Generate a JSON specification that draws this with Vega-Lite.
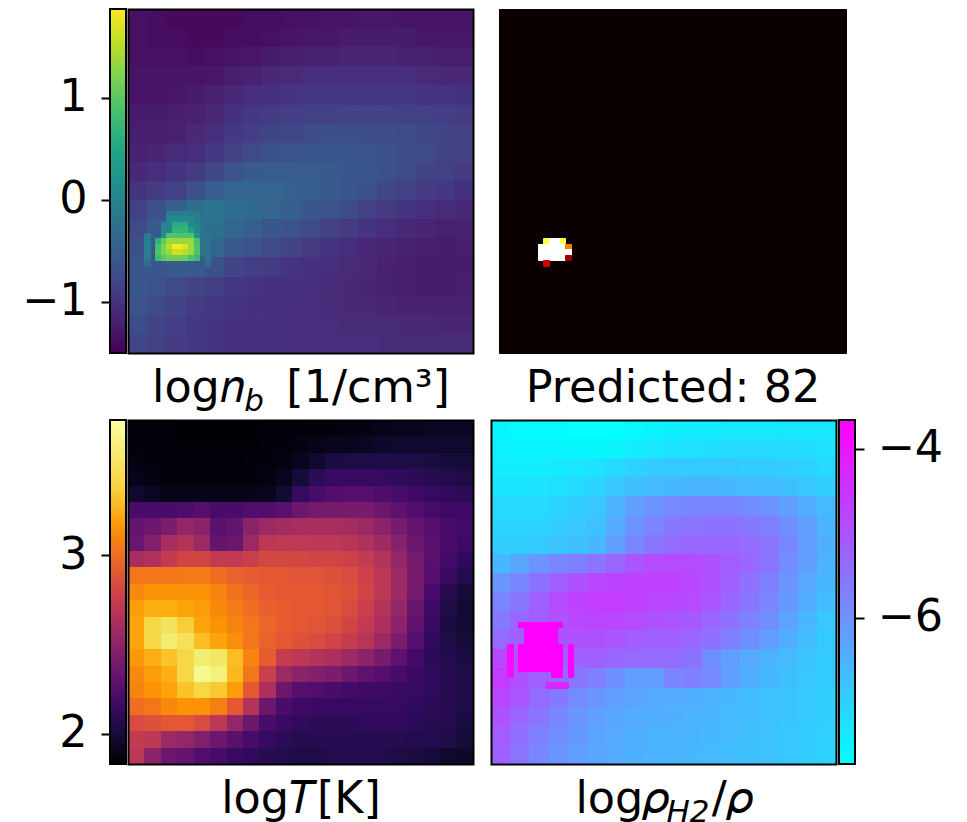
{"$schema":"https://vega.github.io/schema/vega-lite/v6.json","padding":{"left":21,"top":8,"right":0,"bottom":0},"background":"white","config":{"view":{"stroke":null},"font":"DejaVu Sans"},"datasets":{"frame":[{"x":1,"y":1}],"cbn":[{"a":-1.5,"b":1.87}],"cbt":[{"a":1.83,"b":3.76}],"cbr":[{"a":-7.73,"b":-3.66}],
"nc":[{"x":1,"y":1,"v":-1.37},{"x":5,"y":1,"v":-1.4},{"x":8,"y":1,"v":-1.43},{"x":12,"y":1,"v":-1.43},{"x":15,"y":1,"v":-1.43},{"x":19,"y":1,"v":-1.43},{"x":22,"y":1,"v":-1.4},{"x":26,"y":1,"v":-1.4},{"x":29,"y":1,"v":-1.37},{"x":33,"y":1,"v":-1.37},{"x":36,"y":1,"v":-1.33},{"x":40,"y":1,"v":-1.33},{"x":43,"y":1,"v":-1.3},{"x":47,"y":1,"v":-1.3},{"x":50,"y":1,"v":-1.33},{"x":54,"y":1,"v":-1.33},{"x":57,"y":1,"v":-1.33},{"x":61,"y":1,"v":-1.33},
{"x":1,"y":5,"v":-1.37},{"x":5,"y":5,"v":-1.4},{"x":8,"y":5,"v":-1.4},{"x":12,"y":5,"v":-1.43},{"x":15,"y":5,"v":-1.43},{"x":19,"y":5,"v":-1.4},{"x":22,"y":5,"v":-1.4},{"x":26,"y":5,"v":-1.37},{"x":29,"y":5,"v":-1.33},{"x":33,"y":5,"v":-1.3},{"x":36,"y":5,"v":-1.3},{"x":40,"y":5,"v":-1.26},{"x":43,"y":5,"v":-1.26},{"x":47,"y":5,"v":-1.26},{"x":50,"y":5,"v":-1.26},{"x":54,"y":5,"v":-1.3},{"x":57,"y":5,"v":-1.3},{"x":61,"y":5,"v":-1.3},
{"x":1,"y":8,"v":-1.37},{"x":5,"y":8,"v":-1.37},{"x":8,"y":8,"v":-1.37},{"x":12,"y":8,"v":-1.4},{"x":15,"y":8,"v":-1.37},{"x":19,"y":8,"v":-1.33},{"x":22,"y":8,"v":-1.3},{"x":26,"y":8,"v":-1.26},{"x":29,"y":8,"v":-1.23},{"x":33,"y":8,"v":-1.2},{"x":36,"y":8,"v":-1.2},{"x":40,"y":8,"v":-1.16},{"x":43,"y":8,"v":-1.16},{"x":47,"y":8,"v":-1.16},{"x":50,"y":8,"v":-1.2},{"x":54,"y":8,"v":-1.2},{"x":57,"y":8,"v":-1.23},{"x":61,"y":8,"v":-1.23},
{"x":1,"y":12,"v":-1.33},{"x":5,"y":12,"v":-1.33},{"x":8,"y":12,"v":-1.33},{"x":12,"y":12,"v":-1.33},{"x":15,"y":12,"v":-1.3},{"x":19,"y":12,"v":-1.23},{"x":22,"y":12,"v":-1.2},{"x":26,"y":12,"v":-1.13},{"x":29,"y":12,"v":-1.1},{"x":33,"y":12,"v":-1.06},{"x":36,"y":12,"v":-1.06},{"x":40,"y":12,"v":-1.06},{"x":43,"y":12,"v":-1.06},{"x":47,"y":12,"v":-1.06},{"x":50,"y":12,"v":-1.06},{"x":54,"y":12,"v":-1.1},{"x":57,"y":12,"v":-1.13},{"x":61,"y":12,"v":-1.13},
{"x":1,"y":15,"v":-1.33},{"x":5,"y":15,"v":-1.33},{"x":8,"y":15,"v":-1.3},{"x":12,"y":15,"v":-1.26},{"x":15,"y":15,"v":-1.2},{"x":19,"y":15,"v":-1.13},{"x":22,"y":15,"v":-1.06},{"x":26,"y":15,"v":-1.03},{"x":29,"y":15,"v":-0.99},{"x":33,"y":15,"v":-0.96},{"x":36,"y":15,"v":-0.96},{"x":40,"y":15,"v":-0.96},{"x":43,"y":15,"v":-0.96},{"x":47,"y":15,"v":-0.96},{"x":50,"y":15,"v":-0.96},{"x":54,"y":15,"v":-0.99},{"x":57,"y":15,"v":-0.99},{"x":61,"y":15,"v":-1.03},
{"x":1,"y":19,"v":-1.26},{"x":5,"y":19,"v":-1.26},{"x":8,"y":19,"v":-1.23},{"x":12,"y":19,"v":-1.2},{"x":15,"y":19,"v":-1.13},{"x":19,"y":19,"v":-1.03},{"x":22,"y":19,"v":-0.96},{"x":26,"y":19,"v":-0.93},{"x":29,"y":19,"v":-0.89},{"x":33,"y":19,"v":-0.86},{"x":36,"y":19,"v":-0.86},{"x":40,"y":19,"v":-0.83},{"x":43,"y":19,"v":-0.83},{"x":47,"y":19,"v":-0.83},{"x":50,"y":19,"v":-0.86},{"x":54,"y":19,"v":-0.86},{"x":57,"y":19,"v":-0.89},{"x":61,"y":19,"v":-0.93},
{"x":1,"y":22,"v":-1.23},{"x":5,"y":22,"v":-1.23},{"x":8,"y":22,"v":-1.2},{"x":12,"y":22,"v":-1.13},{"x":15,"y":22,"v":-1.06},{"x":19,"y":22,"v":-0.96},{"x":22,"y":22,"v":-0.89},{"x":26,"y":22,"v":-0.83},{"x":29,"y":22,"v":-0.79},{"x":33,"y":22,"v":-0.76},{"x":36,"y":22,"v":-0.72},{"x":40,"y":22,"v":-0.72},{"x":43,"y":22,"v":-0.72},{"x":47,"y":22,"v":-0.72},{"x":50,"y":22,"v":-0.76},{"x":54,"y":22,"v":-0.79},{"x":57,"y":22,"v":-0.83},{"x":61,"y":22,"v":-0.86},
{"x":1,"y":26,"v":-1.2},{"x":5,"y":26,"v":-1.16},{"x":8,"y":26,"v":-1.1},{"x":12,"y":26,"v":-1.06},{"x":15,"y":26,"v":-0.96},{"x":19,"y":26,"v":-0.86},{"x":22,"y":26,"v":-0.76},{"x":26,"y":26,"v":-0.69},{"x":29,"y":26,"v":-0.66},{"x":33,"y":26,"v":-0.62},{"x":36,"y":26,"v":-0.62},{"x":40,"y":26,"v":-0.62},{"x":43,"y":26,"v":-0.66},{"x":47,"y":26,"v":-0.69},{"x":50,"y":26,"v":-0.72},{"x":54,"y":26,"v":-0.76},{"x":57,"y":26,"v":-0.83},{"x":61,"y":26,"v":-0.86},
{"x":1,"y":29,"v":-1.13},{"x":5,"y":29,"v":-1.06},{"x":8,"y":29,"v":-0.99},{"x":12,"y":29,"v":-0.93},{"x":15,"y":29,"v":-0.79},{"x":19,"y":29,"v":-0.66},{"x":22,"y":29,"v":-0.56},{"x":26,"y":29,"v":-0.52},{"x":29,"y":29,"v":-0.52},{"x":33,"y":29,"v":-0.52},{"x":36,"y":29,"v":-0.56},{"x":40,"y":29,"v":-0.59},{"x":43,"y":29,"v":-0.62},{"x":47,"y":29,"v":-0.69},{"x":50,"y":29,"v":-0.76},{"x":54,"y":29,"v":-0.83},{"x":57,"y":29,"v":-0.86},{"x":61,"y":29,"v":-0.93},
{"x":1,"y":33,"v":-0.99},{"x":5,"y":33,"v":-0.93},{"x":8,"y":33,"v":-0.86},{"x":12,"y":33,"v":-0.69},{"x":15,"y":33,"v":-0.52},{"x":19,"y":33,"v":-0.42},{"x":22,"y":33,"v":-0.39},{"x":26,"y":33,"v":-0.42},{"x":29,"y":33,"v":-0.46},{"x":33,"y":33,"v":-0.49},{"x":36,"y":33,"v":-0.56},{"x":40,"y":33,"v":-0.62},{"x":43,"y":33,"v":-0.69},{"x":47,"y":33,"v":-0.79},{"x":50,"y":33,"v":-0.86},{"x":54,"y":33,"v":-0.93},{"x":57,"y":33,"v":-0.96},{"x":61,"y":33,"v":-1.03},
{"x":1,"y":36,"v":-0.86},{"x":5,"y":36,"v":-0.69},{"x":8,"y":36,"v":-0.49},{"x":12,"y":36,"v":-0.29},{"x":15,"y":36,"v":-0.22},{"x":19,"y":36,"v":-0.29},{"x":22,"y":36,"v":-0.35},{"x":26,"y":36,"v":-0.42},{"x":29,"y":36,"v":-0.49},{"x":33,"y":36,"v":-0.59},{"x":36,"y":36,"v":-0.66},{"x":40,"y":36,"v":-0.76},{"x":43,"y":36,"v":-0.86},{"x":47,"y":36,"v":-0.93},{"x":50,"y":36,"v":-0.99},{"x":54,"y":36,"v":-1.06},{"x":57,"y":36,"v":-1.1},{"x":61,"y":36,"v":-1.13},
{"x":1,"y":40,"v":-0.76},{"x":5,"y":40,"v":-0.56},{"x":8,"y":40,"v":-0.35},{"x":12,"y":40,"v":-0.22},{"x":15,"y":40,"v":-0.29},{"x":19,"y":40,"v":-0.39},{"x":22,"y":40,"v":-0.49},{"x":26,"y":40,"v":-0.59},{"x":29,"y":40,"v":-0.66},{"x":33,"y":40,"v":-0.76},{"x":36,"y":40,"v":-0.86},{"x":40,"y":40,"v":-0.93},{"x":43,"y":40,"v":-0.99},{"x":47,"y":40,"v":-1.06},{"x":50,"y":40,"v":-1.13},{"x":54,"y":40,"v":-1.16},{"x":57,"y":40,"v":-1.2},{"x":61,"y":40,"v":-1.2},
{"x":1,"y":43,"v":-0.69},{"x":5,"y":43,"v":-0.56},{"x":8,"y":43,"v":-0.39},{"x":12,"y":43,"v":-0.25},{"x":15,"y":43,"v":-0.39},{"x":19,"y":43,"v":-0.56},{"x":22,"y":43,"v":-0.66},{"x":26,"y":43,"v":-0.76},{"x":29,"y":43,"v":-0.83},{"x":33,"y":43,"v":-0.93},{"x":36,"y":43,"v":-0.99},{"x":40,"y":43,"v":-1.06},{"x":43,"y":43,"v":-1.13},{"x":47,"y":43,"v":-1.16},{"x":50,"y":43,"v":-1.2},{"x":54,"y":43,"v":-1.23},{"x":57,"y":43,"v":-1.26},{"x":61,"y":43,"v":-1.23},
{"x":1,"y":47,"v":-0.59},{"x":5,"y":47,"v":-0.59},{"x":8,"y":47,"v":-0.56},{"x":12,"y":47,"v":-0.56},{"x":15,"y":47,"v":-0.69},{"x":19,"y":47,"v":-0.83},{"x":22,"y":47,"v":-0.89},{"x":26,"y":47,"v":-0.93},{"x":29,"y":47,"v":-0.99},{"x":33,"y":47,"v":-1.03},{"x":36,"y":47,"v":-1.06},{"x":40,"y":47,"v":-1.1},{"x":43,"y":47,"v":-1.13},{"x":47,"y":47,"v":-1.2},{"x":50,"y":47,"v":-1.23},{"x":54,"y":47,"v":-1.26},{"x":57,"y":47,"v":-1.26},{"x":61,"y":47,"v":-1.26},
{"x":1,"y":50,"v":-0.59},{"x":5,"y":50,"v":-0.66},{"x":8,"y":50,"v":-0.76},{"x":12,"y":50,"v":-0.83},{"x":15,"y":50,"v":-0.89},{"x":19,"y":50,"v":-0.96},{"x":22,"y":50,"v":-0.99},{"x":26,"y":50,"v":-1.03},{"x":29,"y":50,"v":-1.03},{"x":33,"y":50,"v":-1.06},{"x":36,"y":50,"v":-1.1},{"x":40,"y":50,"v":-1.13},{"x":43,"y":50,"v":-1.16},{"x":47,"y":50,"v":-1.2},{"x":50,"y":50,"v":-1.23},{"x":54,"y":50,"v":-1.26},{"x":57,"y":50,"v":-1.26},{"x":61,"y":50,"v":-1.23},
{"x":1,"y":54,"v":-0.66},{"x":5,"y":54,"v":-0.76},{"x":8,"y":54,"v":-0.83},{"x":12,"y":54,"v":-0.93},{"x":15,"y":54,"v":-0.96},{"x":19,"y":54,"v":-0.99},{"x":22,"y":54,"v":-1.03},{"x":26,"y":54,"v":-1.03},{"x":29,"y":54,"v":-1.06},{"x":33,"y":54,"v":-1.06},{"x":36,"y":54,"v":-1.1},{"x":40,"y":54,"v":-1.13},{"x":43,"y":54,"v":-1.13},{"x":47,"y":54,"v":-1.16},{"x":50,"y":54,"v":-1.2},{"x":54,"y":54,"v":-1.2},{"x":57,"y":54,"v":-1.2},{"x":61,"y":54,"v":-1.2},
{"x":1,"y":57,"v":-0.72},{"x":5,"y":57,"v":-0.83},{"x":8,"y":57,"v":-0.89},{"x":12,"y":57,"v":-0.96},{"x":15,"y":57,"v":-0.99},{"x":19,"y":57,"v":-1.03},{"x":22,"y":57,"v":-1.03},{"x":26,"y":57,"v":-1.06},{"x":29,"y":57,"v":-1.06},{"x":33,"y":57,"v":-1.06},{"x":36,"y":57,"v":-1.06},{"x":40,"y":57,"v":-1.1},{"x":43,"y":57,"v":-1.1},{"x":47,"y":57,"v":-1.1},{"x":50,"y":57,"v":-1.13},{"x":54,"y":57,"v":-1.13},{"x":57,"y":57,"v":-1.16},{"x":61,"y":57,"v":-1.16},
{"x":1,"y":61,"v":-0.79},{"x":5,"y":61,"v":-0.86},{"x":8,"y":61,"v":-0.93},{"x":12,"y":61,"v":-0.96},{"x":15,"y":61,"v":-0.99},{"x":19,"y":61,"v":-1.03},{"x":22,"y":61,"v":-1.03},{"x":26,"y":61,"v":-1.03},{"x":29,"y":61,"v":-1.06},{"x":33,"y":61,"v":-1.06},{"x":36,"y":61,"v":-1.06},{"x":40,"y":61,"v":-1.06},{"x":43,"y":61,"v":-1.06},{"x":47,"y":61,"v":-1.1},{"x":50,"y":61,"v":-1.1},{"x":54,"y":61,"v":-1.1},{"x":57,"y":61,"v":-1.1},{"x":61,"y":61,"v":-1.1}],
"nf":[{"x":7,"y":37,"v":-0.08},{"x":8,"y":37,"v":-0.08},{"x":9,"y":37,"v":-0.08},{"x":10,"y":37,"v":-0.08},{"x":11,"y":37,"v":-0.08},{"x":12,"y":37,"v":-0.08},
{"x":7,"y":38,"v":0.08},{"x":8,"y":38,"v":0.08},{"x":9,"y":38,"v":0.08},{"x":10,"y":38,"v":0.08},{"x":11,"y":38,"v":0.08},{"x":12,"y":38,"v":-0.08},
{"x":6,"y":39,"v":0.02},{"x":7,"y":39,"v":0.02},{"x":8,"y":39,"v":0.59},{"x":9,"y":39,"v":0.59},{"x":10,"y":39,"v":0.59},{"x":11,"y":39,"v":0.02},{"x":12,"y":39,"v":0.02},
{"x":6,"y":40,"v":0.08},{"x":7,"y":40,"v":0.08},{"x":8,"y":40,"v":0.72},{"x":9,"y":40,"v":0.72},{"x":10,"y":40,"v":0.72},{"x":11,"y":40,"v":0.35},{"x":12,"y":40,"v":0.02},
{"x":3,"y":41,"v":-0.08},{"x":6,"y":41,"v":0.19},{"x":7,"y":41,"v":0.93},{"x":8,"y":41,"v":0.93},{"x":9,"y":41,"v":0.93},{"x":10,"y":41,"v":0.93},{"x":11,"y":41,"v":0.93},{"x":12,"y":41,"v":0.19},{"x":14,"y":41,"v":-0.22},
{"x":3,"y":42,"v":-0.08},{"x":5,"y":42,"v":0.69},{"x":6,"y":42,"v":1.03},{"x":7,"y":42,"v":1.36},{"x":8,"y":42,"v":1.36},{"x":9,"y":42,"v":1.36},{"x":10,"y":42,"v":1.36},{"x":11,"y":42,"v":1.36},{"x":12,"y":42,"v":0.86},{"x":14,"y":42,"v":-0.22},
{"x":3,"y":43,"v":-0.08},{"x":5,"y":43,"v":0.86},{"x":6,"y":43,"v":1.2},{"x":7,"y":43,"v":1.53},{"x":8,"y":43,"v":1.87},{"x":9,"y":43,"v":1.87},{"x":10,"y":43,"v":1.7},{"x":11,"y":43,"v":1.36},{"x":12,"y":43,"v":0.93},{"x":14,"y":43,"v":-0.22},
{"x":3,"y":44,"v":-0.08},{"x":5,"y":44,"v":0.93},{"x":6,"y":44,"v":1.2},{"x":7,"y":44,"v":1.36},{"x":8,"y":44,"v":1.6},{"x":9,"y":44,"v":1.6},{"x":10,"y":44,"v":1.47},{"x":11,"y":44,"v":1.36},{"x":12,"y":44,"v":0.93},{"x":14,"y":44,"v":-0.22},
{"x":3,"y":45,"v":-0.08},{"x":5,"y":45,"v":0.79},{"x":6,"y":45,"v":1.03},{"x":7,"y":45,"v":1.13},{"x":8,"y":45,"v":1.13},{"x":9,"y":45,"v":1.13},{"x":10,"y":45,"v":1.13},{"x":11,"y":45,"v":0.93},{"x":12,"y":45,"v":0.79},{"x":14,"y":45,"v":-0.22},
{"x":3,"y":46,"v":-0.32},{"x":14,"y":46,"v":-0.32}],
"tc":[{"x":1,"y":1,"v":1.85},{"x":4,"y":1,"v":1.85},{"x":7,"y":1,"v":1.85},{"x":10,"y":1,"v":1.83},{"x":13,"y":1,"v":1.83},{"x":16,"y":1,"v":1.83},{"x":19,"y":1,"v":1.83},{"x":22,"y":1,"v":1.83},{"x":25,"y":1,"v":1.85},{"x":28,"y":1,"v":1.85},{"x":31,"y":1,"v":1.85},{"x":34,"y":1,"v":1.87},{"x":37,"y":1,"v":1.87},{"x":40,"y":1,"v":1.89},{"x":43,"y":1,"v":1.89},{"x":46,"y":1,"v":1.91},{"x":49,"y":1,"v":1.93},{"x":52,"y":1,"v":1.93},{"x":55,"y":1,"v":1.95},{"x":58,"y":1,"v":1.95},{"x":61,"y":1,"v":1.95},
{"x":1,"y":4,"v":1.87},{"x":4,"y":4,"v":1.87},{"x":7,"y":4,"v":1.85},{"x":10,"y":4,"v":1.85},{"x":13,"y":4,"v":1.85},{"x":16,"y":4,"v":1.85},{"x":19,"y":4,"v":1.85},{"x":22,"y":4,"v":1.85},{"x":25,"y":4,"v":1.87},{"x":28,"y":4,"v":1.87},{"x":31,"y":4,"v":1.89},{"x":34,"y":4,"v":1.91},{"x":37,"y":4,"v":1.93},{"x":40,"y":4,"v":1.93},{"x":43,"y":4,"v":1.95},{"x":46,"y":4,"v":1.97},{"x":49,"y":4,"v":1.98},{"x":52,"y":4,"v":1.98},{"x":55,"y":4,"v":1.98},{"x":58,"y":4,"v":1.98},{"x":61,"y":4,"v":1.98},
{"x":1,"y":7,"v":1.89},{"x":4,"y":7,"v":1.87},{"x":7,"y":7,"v":1.87},{"x":10,"y":7,"v":1.85},{"x":13,"y":7,"v":1.85},{"x":16,"y":7,"v":1.85},{"x":19,"y":7,"v":1.85},{"x":22,"y":7,"v":1.87},{"x":25,"y":7,"v":1.87},{"x":28,"y":7,"v":1.89},{"x":31,"y":7,"v":1.93},{"x":34,"y":7,"v":1.98},{"x":37,"y":7,"v":2.04},{"x":40,"y":7,"v":2.06},{"x":43,"y":7,"v":2.06},{"x":46,"y":7,"v":2.06},{"x":49,"y":7,"v":2.06},{"x":52,"y":7,"v":2.06},{"x":55,"y":7,"v":2.04},{"x":58,"y":7,"v":2.02},{"x":61,"y":7,"v":2.02},
{"x":1,"y":10,"v":1.91},{"x":4,"y":10,"v":1.89},{"x":7,"y":10,"v":1.87},{"x":10,"y":10,"v":1.87},{"x":13,"y":10,"v":1.87},{"x":16,"y":10,"v":1.87},{"x":19,"y":10,"v":1.87},{"x":22,"y":10,"v":1.87},{"x":25,"y":10,"v":1.89},{"x":28,"y":10,"v":1.93},{"x":31,"y":10,"v":2.02},{"x":34,"y":10,"v":2.12},{"x":37,"y":10,"v":2.16},{"x":40,"y":10,"v":2.18},{"x":43,"y":10,"v":2.18},{"x":46,"y":10,"v":2.16},{"x":49,"y":10,"v":2.14},{"x":52,"y":10,"v":2.12},{"x":55,"y":10,"v":2.1},{"x":58,"y":10,"v":2.08},{"x":61,"y":10,"v":2.06},
{"x":1,"y":13,"v":1.98},{"x":4,"y":13,"v":1.95},{"x":7,"y":13,"v":1.91},{"x":10,"y":13,"v":1.91},{"x":13,"y":13,"v":1.91},{"x":16,"y":13,"v":1.91},{"x":19,"y":13,"v":1.91},{"x":22,"y":13,"v":1.91},{"x":25,"y":13,"v":1.93},{"x":28,"y":13,"v":2.0},{"x":31,"y":13,"v":2.16},{"x":34,"y":13,"v":2.24},{"x":37,"y":13,"v":2.29},{"x":40,"y":13,"v":2.31},{"x":43,"y":13,"v":2.31},{"x":46,"y":13,"v":2.27},{"x":49,"y":13,"v":2.24},{"x":52,"y":13,"v":2.2},{"x":55,"y":13,"v":2.16},{"x":58,"y":13,"v":2.14},{"x":61,"y":13,"v":2.12},
{"x":1,"y":16,"v":2.25},{"x":4,"y":16,"v":2.25},{"x":7,"y":16,"v":2.25},{"x":10,"y":16,"v":2.27},{"x":13,"y":16,"v":2.31},{"x":16,"y":16,"v":2.25},{"x":19,"y":16,"v":2.25},{"x":22,"y":16,"v":2.29},{"x":25,"y":16,"v":2.29},{"x":28,"y":16,"v":2.33},{"x":31,"y":16,"v":2.41},{"x":34,"y":16,"v":2.45},{"x":37,"y":16,"v":2.47},{"x":40,"y":16,"v":2.47},{"x":43,"y":16,"v":2.47},{"x":46,"y":16,"v":2.41},{"x":49,"y":16,"v":2.35},{"x":52,"y":16,"v":2.29},{"x":55,"y":16,"v":2.24},{"x":58,"y":16,"v":2.2},{"x":61,"y":16,"v":2.2},
{"x":1,"y":19,"v":2.37},{"x":4,"y":19,"v":2.41},{"x":7,"y":19,"v":2.49},{"x":10,"y":19,"v":2.6},{"x":13,"y":19,"v":2.56},{"x":16,"y":19,"v":2.33},{"x":19,"y":19,"v":2.37},{"x":22,"y":19,"v":2.56},{"x":25,"y":19,"v":2.64},{"x":28,"y":19,"v":2.68},{"x":31,"y":19,"v":2.7},{"x":34,"y":19,"v":2.7},{"x":37,"y":19,"v":2.7},{"x":40,"y":19,"v":2.68},{"x":43,"y":19,"v":2.64},{"x":46,"y":19,"v":2.56},{"x":49,"y":19,"v":2.47},{"x":52,"y":19,"v":2.37},{"x":55,"y":19,"v":2.31},{"x":58,"y":19,"v":2.25},{"x":61,"y":19,"v":2.22},
{"x":1,"y":22,"v":2.41},{"x":4,"y":22,"v":2.52},{"x":7,"y":22,"v":2.7},{"x":10,"y":22,"v":2.76},{"x":13,"y":22,"v":2.64},{"x":16,"y":22,"v":2.37},{"x":19,"y":22,"v":2.41},{"x":22,"y":22,"v":2.64},{"x":25,"y":22,"v":2.8},{"x":28,"y":22,"v":2.81},{"x":31,"y":22,"v":2.81},{"x":34,"y":22,"v":2.8},{"x":37,"y":22,"v":2.8},{"x":40,"y":22,"v":2.78},{"x":43,"y":22,"v":2.74},{"x":46,"y":22,"v":2.66},{"x":49,"y":22,"v":2.54},{"x":52,"y":22,"v":2.41},{"x":55,"y":22,"v":2.33},{"x":58,"y":22,"v":2.25},{"x":61,"y":22,"v":2.2},
{"x":1,"y":25,"v":2.7},{"x":4,"y":25,"v":2.74},{"x":7,"y":25,"v":2.83},{"x":10,"y":25,"v":2.91},{"x":13,"y":25,"v":2.91},{"x":16,"y":25,"v":2.83},{"x":19,"y":25,"v":2.83},{"x":22,"y":25,"v":2.87},{"x":25,"y":25,"v":2.93},{"x":28,"y":25,"v":2.93},{"x":31,"y":25,"v":2.93},{"x":34,"y":25,"v":2.91},{"x":37,"y":25,"v":2.91},{"x":40,"y":25,"v":2.89},{"x":43,"y":25,"v":2.83},{"x":46,"y":25,"v":2.76},{"x":49,"y":25,"v":2.6},{"x":52,"y":25,"v":2.45},{"x":55,"y":25,"v":2.33},{"x":58,"y":25,"v":2.22},{"x":61,"y":25,"v":2.14},
{"x":1,"y":28,"v":3.18},{"x":4,"y":28,"v":3.18},{"x":7,"y":28,"v":3.18},{"x":10,"y":28,"v":3.2},{"x":13,"y":28,"v":3.2},{"x":16,"y":28,"v":3.14},{"x":19,"y":28,"v":3.08},{"x":22,"y":28,"v":3.05},{"x":25,"y":28,"v":3.03},{"x":28,"y":28,"v":3.03},{"x":31,"y":28,"v":3.01},{"x":34,"y":28,"v":3.01},{"x":37,"y":28,"v":2.99},{"x":40,"y":28,"v":2.95},{"x":43,"y":28,"v":2.89},{"x":46,"y":28,"v":2.8},{"x":49,"y":28,"v":2.64},{"x":52,"y":28,"v":2.47},{"x":55,"y":28,"v":2.31},{"x":58,"y":28,"v":2.18},{"x":61,"y":28,"v":2.08},
{"x":1,"y":31,"v":3.26},{"x":4,"y":31,"v":3.3},{"x":7,"y":31,"v":3.3},{"x":10,"y":31,"v":3.3},{"x":13,"y":31,"v":3.3},{"x":16,"y":31,"v":3.24},{"x":19,"y":31,"v":3.16},{"x":22,"y":31,"v":3.1},{"x":25,"y":31,"v":3.05},{"x":28,"y":31,"v":3.03},{"x":31,"y":31,"v":3.03},{"x":34,"y":31,"v":3.03},{"x":37,"y":31,"v":3.01},{"x":40,"y":31,"v":2.99},{"x":43,"y":31,"v":2.91},{"x":46,"y":31,"v":2.8},{"x":49,"y":31,"v":2.64},{"x":52,"y":31,"v":2.45},{"x":55,"y":31,"v":2.25},{"x":58,"y":31,"v":2.1},{"x":61,"y":31,"v":2.02},
{"x":1,"y":34,"v":3.34},{"x":4,"y":34,"v":3.41},{"x":7,"y":34,"v":3.41},{"x":10,"y":34,"v":3.37},{"x":13,"y":34,"v":3.34},{"x":16,"y":34,"v":3.26},{"x":19,"y":34,"v":3.2},{"x":22,"y":34,"v":3.14},{"x":25,"y":34,"v":3.07},{"x":28,"y":34,"v":3.05},{"x":31,"y":34,"v":3.03},{"x":34,"y":34,"v":3.03},{"x":37,"y":34,"v":3.01},{"x":40,"y":34,"v":2.95},{"x":43,"y":34,"v":2.87},{"x":46,"y":34,"v":2.76},{"x":49,"y":34,"v":2.6},{"x":52,"y":34,"v":2.39},{"x":55,"y":34,"v":2.2},{"x":58,"y":34,"v":2.06},{"x":61,"y":34,"v":2.0},
{"x":1,"y":37,"v":3.37},{"x":4,"y":37,"v":3.57},{"x":7,"y":37,"v":3.62},{"x":10,"y":37,"v":3.53},{"x":13,"y":37,"v":3.37},{"x":16,"y":37,"v":3.3},{"x":19,"y":37,"v":3.24},{"x":22,"y":37,"v":3.18},{"x":25,"y":37,"v":3.1},{"x":28,"y":37,"v":3.05},{"x":31,"y":37,"v":3.03},{"x":34,"y":37,"v":3.01},{"x":37,"y":37,"v":2.97},{"x":40,"y":37,"v":2.91},{"x":43,"y":37,"v":2.83},{"x":46,"y":37,"v":2.72},{"x":49,"y":37,"v":2.56},{"x":52,"y":37,"v":2.35},{"x":55,"y":37,"v":2.16},{"x":58,"y":37,"v":2.04},{"x":61,"y":37,"v":2.0},
{"x":1,"y":40,"v":3.37},{"x":4,"y":40,"v":3.57},{"x":7,"y":40,"v":3.66},{"x":10,"y":40,"v":3.61},{"x":13,"y":40,"v":3.47},{"x":16,"y":40,"v":3.37},{"x":19,"y":40,"v":3.28},{"x":22,"y":40,"v":3.18},{"x":25,"y":40,"v":3.08},{"x":28,"y":40,"v":3.03},{"x":31,"y":40,"v":2.99},{"x":34,"y":40,"v":2.95},{"x":37,"y":40,"v":2.91},{"x":40,"y":40,"v":2.85},{"x":43,"y":40,"v":2.78},{"x":46,"y":40,"v":2.64},{"x":49,"y":40,"v":2.49},{"x":52,"y":40,"v":2.31},{"x":55,"y":40,"v":2.14},{"x":58,"y":40,"v":2.06},{"x":61,"y":40,"v":2.02},
{"x":1,"y":43,"v":3.32},{"x":4,"y":43,"v":3.41},{"x":7,"y":43,"v":3.49},{"x":10,"y":43,"v":3.57},{"x":13,"y":43,"v":3.66},{"x":16,"y":43,"v":3.64},{"x":19,"y":43,"v":3.47},{"x":22,"y":43,"v":3.24},{"x":25,"y":43,"v":3.05},{"x":28,"y":43,"v":2.85},{"x":31,"y":43,"v":2.8},{"x":34,"y":43,"v":2.76},{"x":37,"y":43,"v":2.72},{"x":40,"y":43,"v":2.64},{"x":43,"y":43,"v":2.56},{"x":46,"y":43,"v":2.47},{"x":49,"y":43,"v":2.35},{"x":52,"y":43,"v":2.22},{"x":55,"y":43,"v":2.12},{"x":58,"y":43,"v":2.08},{"x":61,"y":43,"v":2.04},
{"x":1,"y":46,"v":3.26},{"x":4,"y":46,"v":3.34},{"x":7,"y":46,"v":3.41},{"x":10,"y":46,"v":3.57},{"x":13,"y":46,"v":3.72},{"x":16,"y":46,"v":3.68},{"x":19,"y":46,"v":3.45},{"x":22,"y":46,"v":3.18},{"x":25,"y":46,"v":2.87},{"x":28,"y":46,"v":2.64},{"x":31,"y":46,"v":2.56},{"x":34,"y":46,"v":2.52},{"x":37,"y":46,"v":2.49},{"x":40,"y":46,"v":2.41},{"x":43,"y":46,"v":2.35},{"x":46,"y":46,"v":2.31},{"x":49,"y":46,"v":2.24},{"x":52,"y":46,"v":2.18},{"x":55,"y":46,"v":2.14},{"x":58,"y":46,"v":2.1},{"x":61,"y":46,"v":2.06},
{"x":1,"y":49,"v":3.24},{"x":4,"y":49,"v":3.3},{"x":7,"y":49,"v":3.37},{"x":10,"y":49,"v":3.49},{"x":13,"y":49,"v":3.57},{"x":16,"y":49,"v":3.51},{"x":19,"y":49,"v":3.34},{"x":22,"y":49,"v":3.03},{"x":25,"y":49,"v":2.72},{"x":28,"y":49,"v":2.41},{"x":31,"y":49,"v":2.31},{"x":34,"y":49,"v":2.29},{"x":37,"y":49,"v":2.25},{"x":40,"y":49,"v":2.22},{"x":43,"y":49,"v":2.2},{"x":46,"y":49,"v":2.2},{"x":49,"y":49,"v":2.18},{"x":52,"y":49,"v":2.16},{"x":55,"y":49,"v":2.14},{"x":58,"y":49,"v":2.1},{"x":61,"y":49,"v":2.06},
{"x":1,"y":52,"v":3.14},{"x":4,"y":52,"v":3.18},{"x":7,"y":52,"v":3.26},{"x":10,"y":52,"v":3.3},{"x":13,"y":52,"v":3.3},{"x":16,"y":52,"v":3.22},{"x":19,"y":52,"v":3.03},{"x":22,"y":52,"v":2.76},{"x":25,"y":52,"v":2.41},{"x":28,"y":52,"v":2.25},{"x":31,"y":52,"v":2.2},{"x":34,"y":52,"v":2.18},{"x":37,"y":52,"v":2.16},{"x":40,"y":52,"v":2.16},{"x":43,"y":52,"v":2.16},{"x":46,"y":52,"v":2.16},{"x":49,"y":52,"v":2.16},{"x":52,"y":52,"v":2.14},{"x":55,"y":52,"v":2.12},{"x":58,"y":52,"v":2.1},{"x":61,"y":52,"v":2.06},
{"x":1,"y":55,"v":2.95},{"x":4,"y":55,"v":2.99},{"x":7,"y":55,"v":3.03},{"x":10,"y":55,"v":3.03},{"x":13,"y":55,"v":2.95},{"x":16,"y":55,"v":2.8},{"x":19,"y":55,"v":2.6},{"x":22,"y":55,"v":2.41},{"x":25,"y":55,"v":2.25},{"x":28,"y":55,"v":2.18},{"x":31,"y":55,"v":2.14},{"x":34,"y":55,"v":2.12},{"x":37,"y":55,"v":2.12},{"x":40,"y":55,"v":2.12},{"x":43,"y":55,"v":2.14},{"x":46,"y":55,"v":2.14},{"x":49,"y":55,"v":2.14},{"x":52,"y":55,"v":2.12},{"x":55,"y":55,"v":2.1},{"x":58,"y":55,"v":2.08},{"x":61,"y":55,"v":2.04},
{"x":1,"y":58,"v":2.83},{"x":4,"y":58,"v":2.8},{"x":7,"y":58,"v":2.64},{"x":10,"y":58,"v":2.6},{"x":13,"y":58,"v":2.51},{"x":16,"y":58,"v":2.41},{"x":19,"y":58,"v":2.33},{"x":22,"y":58,"v":2.24},{"x":25,"y":58,"v":2.16},{"x":28,"y":58,"v":2.12},{"x":31,"y":58,"v":2.1},{"x":34,"y":58,"v":2.1},{"x":37,"y":58,"v":2.1},{"x":40,"y":58,"v":2.1},{"x":43,"y":58,"v":2.1},{"x":46,"y":58,"v":2.1},{"x":49,"y":58,"v":2.1},{"x":52,"y":58,"v":2.08},{"x":55,"y":58,"v":2.08},{"x":58,"y":58,"v":2.06},{"x":61,"y":58,"v":2.02},
{"x":1,"y":61,"v":2.8},{"x":4,"y":61,"v":2.56},{"x":7,"y":61,"v":2.41},{"x":10,"y":61,"v":2.37},{"x":13,"y":61,"v":2.29},{"x":16,"y":61,"v":2.24},{"x":19,"y":61,"v":2.18},{"x":22,"y":61,"v":2.14},{"x":25,"y":61,"v":2.1},{"x":28,"y":61,"v":2.08},{"x":31,"y":61,"v":2.06},{"x":34,"y":61,"v":2.06},{"x":37,"y":61,"v":2.08},{"x":40,"y":61,"v":2.08},{"x":43,"y":61,"v":2.08},{"x":46,"y":61,"v":2.08},{"x":49,"y":61,"v":2.06},{"x":52,"y":61,"v":2.04},{"x":55,"y":61,"v":2.02},{"x":58,"y":61,"v":1.98},{"x":61,"y":61,"v":1.97}],
"rc":[{"x":1,"y":1,"v":-7.61},{"x":5,"y":1,"v":-7.65},{"x":8,"y":1,"v":-7.69},{"x":12,"y":1,"v":-7.69},{"x":15,"y":1,"v":-7.73},{"x":19,"y":1,"v":-7.73},{"x":22,"y":1,"v":-7.73},{"x":26,"y":1,"v":-7.65},{"x":29,"y":1,"v":-7.57},{"x":33,"y":1,"v":-7.49},{"x":36,"y":1,"v":-7.45},{"x":40,"y":1,"v":-7.45},{"x":43,"y":1,"v":-7.4},{"x":47,"y":1,"v":-7.4},{"x":50,"y":1,"v":-7.4},{"x":54,"y":1,"v":-7.36},{"x":57,"y":1,"v":-7.36},{"x":61,"y":1,"v":-7.36},
{"x":1,"y":5,"v":-7.53},{"x":5,"y":5,"v":-7.57},{"x":8,"y":5,"v":-7.57},{"x":12,"y":5,"v":-7.57},{"x":15,"y":5,"v":-7.61},{"x":19,"y":5,"v":-7.61},{"x":22,"y":5,"v":-7.57},{"x":26,"y":5,"v":-7.45},{"x":29,"y":5,"v":-7.36},{"x":33,"y":5,"v":-7.28},{"x":36,"y":5,"v":-7.24},{"x":40,"y":5,"v":-7.2},{"x":43,"y":5,"v":-7.16},{"x":47,"y":5,"v":-7.16},{"x":50,"y":5,"v":-7.16},{"x":54,"y":5,"v":-7.16},{"x":57,"y":5,"v":-7.2},{"x":61,"y":5,"v":-7.24},
{"x":1,"y":8,"v":-7.45},{"x":5,"y":8,"v":-7.45},{"x":8,"y":8,"v":-7.45},{"x":12,"y":8,"v":-7.4},{"x":15,"y":8,"v":-7.36},{"x":19,"y":8,"v":-7.28},{"x":22,"y":8,"v":-7.12},{"x":26,"y":8,"v":-7.0},{"x":29,"y":8,"v":-6.92},{"x":33,"y":8,"v":-6.88},{"x":36,"y":8,"v":-6.88},{"x":40,"y":8,"v":-6.88},{"x":43,"y":8,"v":-6.88},{"x":47,"y":8,"v":-6.92},{"x":50,"y":8,"v":-6.92},{"x":54,"y":8,"v":-6.96},{"x":57,"y":8,"v":-7.04},{"x":61,"y":8,"v":-7.12},
{"x":1,"y":12,"v":-7.32},{"x":5,"y":12,"v":-7.32},{"x":8,"y":12,"v":-7.28},{"x":12,"y":12,"v":-7.24},{"x":15,"y":12,"v":-7.16},{"x":19,"y":12,"v":-7.04},{"x":22,"y":12,"v":-6.83},{"x":26,"y":12,"v":-6.71},{"x":29,"y":12,"v":-6.63},{"x":33,"y":12,"v":-6.59},{"x":36,"y":12,"v":-6.55},{"x":40,"y":12,"v":-6.55},{"x":43,"y":12,"v":-6.59},{"x":47,"y":12,"v":-6.63},{"x":50,"y":12,"v":-6.67},{"x":54,"y":12,"v":-6.71},{"x":57,"y":12,"v":-6.83},{"x":61,"y":12,"v":-6.96},
{"x":1,"y":15,"v":-7.12},{"x":5,"y":15,"v":-7.12},{"x":8,"y":15,"v":-7.12},{"x":12,"y":15,"v":-7.04},{"x":15,"y":15,"v":-6.92},{"x":19,"y":15,"v":-6.83},{"x":22,"y":15,"v":-6.51},{"x":26,"y":15,"v":-6.22},{"x":29,"y":15,"v":-6.02},{"x":33,"y":15,"v":-5.86},{"x":36,"y":15,"v":-5.82},{"x":40,"y":15,"v":-5.82},{"x":43,"y":15,"v":-5.82},{"x":47,"y":15,"v":-5.9},{"x":50,"y":15,"v":-6.02},{"x":54,"y":15,"v":-6.22},{"x":57,"y":15,"v":-6.43},{"x":61,"y":15,"v":-6.63},
{"x":1,"y":19,"v":-7.04},{"x":5,"y":19,"v":-7.04},{"x":8,"y":19,"v":-7.04},{"x":12,"y":19,"v":-6.96},{"x":15,"y":19,"v":-6.83},{"x":19,"y":19,"v":-6.75},{"x":22,"y":19,"v":-6.39},{"x":26,"y":19,"v":-6.02},{"x":29,"y":19,"v":-5.78},{"x":33,"y":19,"v":-5.61},{"x":36,"y":19,"v":-5.53},{"x":40,"y":19,"v":-5.49},{"x":43,"y":19,"v":-5.49},{"x":47,"y":19,"v":-5.57},{"x":50,"y":19,"v":-5.7},{"x":54,"y":19,"v":-5.94},{"x":57,"y":19,"v":-6.22},{"x":61,"y":19,"v":-6.51},
{"x":1,"y":22,"v":-6.92},{"x":5,"y":22,"v":-6.92},{"x":8,"y":22,"v":-6.88},{"x":12,"y":22,"v":-6.79},{"x":15,"y":22,"v":-6.71},{"x":19,"y":22,"v":-6.59},{"x":22,"y":22,"v":-6.18},{"x":26,"y":22,"v":-5.82},{"x":29,"y":22,"v":-5.53},{"x":33,"y":22,"v":-5.37},{"x":36,"y":22,"v":-5.29},{"x":40,"y":22,"v":-5.29},{"x":43,"y":22,"v":-5.29},{"x":47,"y":22,"v":-5.37},{"x":50,"y":22,"v":-5.53},{"x":54,"y":22,"v":-5.82},{"x":57,"y":22,"v":-6.18},{"x":61,"y":22,"v":-6.47},
{"x":1,"y":26,"v":-6.59},{"x":5,"y":26,"v":-6.31},{"x":8,"y":26,"v":-6.02},{"x":12,"y":26,"v":-5.82},{"x":15,"y":26,"v":-5.7},{"x":19,"y":26,"v":-5.53},{"x":22,"y":26,"v":-5.29},{"x":26,"y":26,"v":-5.04},{"x":29,"y":26,"v":-4.88},{"x":33,"y":26,"v":-4.84},{"x":36,"y":26,"v":-4.88},{"x":40,"y":26,"v":-4.96},{"x":43,"y":26,"v":-5.13},{"x":47,"y":26,"v":-5.29},{"x":50,"y":26,"v":-5.53},{"x":54,"y":26,"v":-5.9},{"x":57,"y":26,"v":-6.22},{"x":61,"y":26,"v":-6.51},
{"x":1,"y":29,"v":-6.02},{"x":5,"y":29,"v":-5.82},{"x":8,"y":29,"v":-5.49},{"x":12,"y":29,"v":-5.17},{"x":15,"y":29,"v":-4.96},{"x":19,"y":29,"v":-4.8},{"x":22,"y":29,"v":-4.72},{"x":26,"y":29,"v":-4.68},{"x":29,"y":29,"v":-4.68},{"x":33,"y":29,"v":-4.72},{"x":36,"y":29,"v":-4.8},{"x":40,"y":29,"v":-4.96},{"x":43,"y":29,"v":-5.21},{"x":47,"y":29,"v":-5.45},{"x":50,"y":29,"v":-5.7},{"x":54,"y":29,"v":-6.02},{"x":57,"y":29,"v":-6.35},{"x":61,"y":29,"v":-6.59},
{"x":1,"y":33,"v":-5.78},{"x":5,"y":33,"v":-5.57},{"x":8,"y":33,"v":-5.21},{"x":12,"y":33,"v":-4.88},{"x":15,"y":33,"v":-4.72},{"x":19,"y":33,"v":-4.64},{"x":22,"y":33,"v":-4.64},{"x":26,"y":33,"v":-4.68},{"x":29,"y":33,"v":-4.76},{"x":33,"y":33,"v":-4.8},{"x":36,"y":33,"v":-4.84},{"x":40,"y":33,"v":-5.04},{"x":43,"y":33,"v":-5.29},{"x":47,"y":33,"v":-5.53},{"x":50,"y":33,"v":-5.78},{"x":54,"y":33,"v":-6.1},{"x":57,"y":33,"v":-6.43},{"x":61,"y":33,"v":-6.67},
{"x":1,"y":36,"v":-5.61},{"x":5,"y":36,"v":-5.29},{"x":8,"y":36,"v":-5.13},{"x":12,"y":36,"v":-4.96},{"x":15,"y":36,"v":-4.8},{"x":19,"y":36,"v":-4.76},{"x":22,"y":36,"v":-4.8},{"x":26,"y":36,"v":-4.84},{"x":29,"y":36,"v":-4.96},{"x":33,"y":36,"v":-5.04},{"x":36,"y":36,"v":-5.09},{"x":40,"y":36,"v":-5.29},{"x":43,"y":36,"v":-5.49},{"x":47,"y":36,"v":-5.7},{"x":50,"y":36,"v":-5.94},{"x":54,"y":36,"v":-6.26},{"x":57,"y":36,"v":-6.59},{"x":61,"y":36,"v":-6.83},
{"x":1,"y":40,"v":-5.37},{"x":5,"y":40,"v":-5.21},{"x":8,"y":40,"v":-5.04},{"x":12,"y":40,"v":-4.96},{"x":15,"y":40,"v":-4.96},{"x":19,"y":40,"v":-4.96},{"x":22,"y":40,"v":-5.04},{"x":26,"y":40,"v":-5.13},{"x":29,"y":40,"v":-5.21},{"x":33,"y":40,"v":-5.21},{"x":36,"y":40,"v":-5.29},{"x":40,"y":40,"v":-5.45},{"x":43,"y":40,"v":-5.7},{"x":47,"y":40,"v":-5.94},{"x":50,"y":40,"v":-6.18},{"x":54,"y":40,"v":-6.43},{"x":57,"y":40,"v":-6.67},{"x":61,"y":40,"v":-6.88},
{"x":1,"y":43,"v":-4.8},{"x":5,"y":43,"v":-4.96},{"x":8,"y":43,"v":-5.04},{"x":12,"y":43,"v":-5.13},{"x":15,"y":43,"v":-5.21},{"x":19,"y":43,"v":-5.21},{"x":22,"y":43,"v":-5.29},{"x":26,"y":43,"v":-5.37},{"x":29,"y":43,"v":-5.37},{"x":33,"y":43,"v":-5.37},{"x":36,"y":43,"v":-5.49},{"x":40,"y":43,"v":-5.94},{"x":43,"y":43,"v":-6.18},{"x":47,"y":43,"v":-6.35},{"x":50,"y":43,"v":-6.51},{"x":54,"y":43,"v":-6.63},{"x":57,"y":43,"v":-6.79},{"x":61,"y":43,"v":-6.92},
{"x":1,"y":47,"v":-4.64},{"x":5,"y":47,"v":-4.96},{"x":8,"y":47,"v":-5.21},{"x":12,"y":47,"v":-5.37},{"x":15,"y":47,"v":-5.53},{"x":19,"y":47,"v":-5.7},{"x":22,"y":47,"v":-5.94},{"x":26,"y":47,"v":-6.18},{"x":29,"y":47,"v":-6.18},{"x":33,"y":47,"v":-5.78},{"x":36,"y":47,"v":-5.7},{"x":40,"y":47,"v":-5.86},{"x":43,"y":47,"v":-6.18},{"x":47,"y":47,"v":-6.43},{"x":50,"y":47,"v":-6.59},{"x":54,"y":47,"v":-6.71},{"x":57,"y":47,"v":-6.83},{"x":61,"y":47,"v":-6.92},
{"x":1,"y":50,"v":-4.8},{"x":5,"y":50,"v":-5.04},{"x":8,"y":50,"v":-5.37},{"x":12,"y":50,"v":-5.61},{"x":15,"y":50,"v":-5.86},{"x":19,"y":50,"v":-6.02},{"x":22,"y":50,"v":-6.18},{"x":26,"y":50,"v":-6.26},{"x":29,"y":50,"v":-6.35},{"x":33,"y":50,"v":-6.39},{"x":36,"y":50,"v":-6.43},{"x":40,"y":50,"v":-6.51},{"x":43,"y":50,"v":-6.59},{"x":47,"y":50,"v":-6.67},{"x":50,"y":50,"v":-6.75},{"x":54,"y":50,"v":-6.79},{"x":57,"y":50,"v":-6.88},{"x":61,"y":50,"v":-6.96},
{"x":1,"y":54,"v":-4.96},{"x":5,"y":54,"v":-5.29},{"x":8,"y":54,"v":-5.53},{"x":12,"y":54,"v":-5.82},{"x":15,"y":54,"v":-6.02},{"x":19,"y":54,"v":-6.18},{"x":22,"y":54,"v":-6.31},{"x":26,"y":54,"v":-6.39},{"x":29,"y":54,"v":-6.43},{"x":33,"y":54,"v":-6.47},{"x":36,"y":54,"v":-6.51},{"x":40,"y":54,"v":-6.55},{"x":43,"y":54,"v":-6.63},{"x":47,"y":54,"v":-6.67},{"x":50,"y":54,"v":-6.75},{"x":54,"y":54,"v":-6.79},{"x":57,"y":54,"v":-6.88},{"x":61,"y":54,"v":-6.96},
{"x":1,"y":57,"v":-5.13},{"x":5,"y":57,"v":-5.45},{"x":8,"y":57,"v":-5.7},{"x":12,"y":57,"v":-5.94},{"x":15,"y":57,"v":-6.1},{"x":19,"y":57,"v":-6.26},{"x":22,"y":57,"v":-6.35},{"x":26,"y":57,"v":-6.43},{"x":29,"y":57,"v":-6.51},{"x":33,"y":57,"v":-6.51},{"x":36,"y":57,"v":-6.55},{"x":40,"y":57,"v":-6.59},{"x":43,"y":57,"v":-6.63},{"x":47,"y":57,"v":-6.71},{"x":50,"y":57,"v":-6.75},{"x":54,"y":57,"v":-6.83},{"x":57,"y":57,"v":-6.92},{"x":61,"y":57,"v":-7.0},
{"x":1,"y":61,"v":-5.21},{"x":5,"y":61,"v":-5.53},{"x":8,"y":61,"v":-5.82},{"x":12,"y":61,"v":-6.02},{"x":15,"y":61,"v":-6.18},{"x":19,"y":61,"v":-6.31},{"x":22,"y":61,"v":-6.39},{"x":26,"y":61,"v":-6.47},{"x":29,"y":61,"v":-6.51},{"x":33,"y":61,"v":-6.55},{"x":36,"y":61,"v":-6.59},{"x":40,"y":61,"v":-6.63},{"x":43,"y":61,"v":-6.67},{"x":47,"y":61,"v":-6.71},{"x":50,"y":61,"v":-6.75},{"x":54,"y":61,"v":-6.83},{"x":57,"y":61,"v":-6.92},{"x":61,"y":61,"v":-7.0}],
"rf":[{"x":5,"y":37,"v":-3.66},{"x":6,"y":37,"v":-3.66},{"x":7,"y":37,"v":-3.66},{"x":8,"y":37,"v":-3.66},{"x":9,"y":37,"v":-3.66},{"x":10,"y":37,"v":-3.66},{"x":11,"y":37,"v":-3.66},{"x":12,"y":37,"v":-3.66},
{"x":6,"y":38,"v":-3.66},{"x":7,"y":38,"v":-3.66},{"x":8,"y":38,"v":-3.66},{"x":9,"y":38,"v":-3.66},{"x":10,"y":38,"v":-3.66},{"x":11,"y":38,"v":-3.66},
{"x":6,"y":39,"v":-3.66},{"x":7,"y":39,"v":-3.66},{"x":8,"y":39,"v":-3.66},{"x":9,"y":39,"v":-3.66},{"x":10,"y":39,"v":-3.66},{"x":11,"y":39,"v":-3.66},
{"x":6,"y":40,"v":-3.66},{"x":7,"y":40,"v":-3.66},{"x":8,"y":40,"v":-3.66},{"x":9,"y":40,"v":-3.66},{"x":10,"y":40,"v":-3.66},{"x":11,"y":40,"v":-3.66},
{"x":3,"y":41,"v":-3.85},{"x":5,"y":41,"v":-3.66},{"x":6,"y":41,"v":-3.66},{"x":7,"y":41,"v":-3.66},{"x":8,"y":41,"v":-3.66},{"x":9,"y":41,"v":-3.66},{"x":10,"y":41,"v":-3.66},{"x":11,"y":41,"v":-3.66},{"x":12,"y":41,"v":-3.66},{"x":14,"y":41,"v":-3.66},
{"x":3,"y":42,"v":-3.85},{"x":5,"y":42,"v":-3.66},{"x":6,"y":42,"v":-3.66},{"x":7,"y":42,"v":-3.66},{"x":8,"y":42,"v":-3.66},{"x":9,"y":42,"v":-3.66},{"x":10,"y":42,"v":-3.66},{"x":11,"y":42,"v":-3.66},{"x":12,"y":42,"v":-3.66},{"x":14,"y":42,"v":-3.66},
{"x":3,"y":43,"v":-3.85},{"x":5,"y":43,"v":-3.66},{"x":6,"y":43,"v":-3.66},{"x":7,"y":43,"v":-3.66},{"x":8,"y":43,"v":-3.66},{"x":9,"y":43,"v":-3.66},{"x":10,"y":43,"v":-3.66},{"x":11,"y":43,"v":-3.66},{"x":12,"y":43,"v":-3.66},{"x":14,"y":43,"v":-3.66},
{"x":3,"y":44,"v":-3.85},{"x":5,"y":44,"v":-3.66},{"x":6,"y":44,"v":-3.66},{"x":7,"y":44,"v":-3.66},{"x":8,"y":44,"v":-3.66},{"x":9,"y":44,"v":-3.66},{"x":10,"y":44,"v":-3.66},{"x":11,"y":44,"v":-3.66},{"x":12,"y":44,"v":-3.66},{"x":14,"y":44,"v":-3.66},
{"x":3,"y":45,"v":-3.85},{"x":5,"y":45,"v":-3.66},{"x":6,"y":45,"v":-3.66},{"x":7,"y":45,"v":-3.66},{"x":8,"y":45,"v":-3.66},{"x":9,"y":45,"v":-3.66},{"x":10,"y":45,"v":-3.66},{"x":11,"y":45,"v":-3.66},{"x":12,"y":45,"v":-3.66},{"x":14,"y":45,"v":-3.66},
{"x":3,"y":46,"v":-3.95},{"x":11,"y":46,"v":-3.66},{"x":12,"y":46,"v":-3.66},{"x":14,"y":46,"v":-3.66},
{"x":10,"y":48,"v":-4.27},{"x":11,"y":48,"v":-4.27},{"x":12,"y":48,"v":-4.27},{"x":13,"y":48,"v":-4.27}],
"pc":[{"x":1,"y":1,"v":0}],
"pf":[{"x":8,"y":42,"v":0.75},{"x":9,"y":42,"v":1},{"x":10,"y":42,"v":1},{"x":11,"y":42,"v":0.75},{"x":7,"y":43,"v":1},{"x":8,"y":43,"v":1},{"x":9,"y":43,"v":1},{"x":10,"y":43,"v":1},{"x":11,"y":43,"v":1},{"x":12,"y":43,"v":0.5},{"x":7,"y":44,"v":1},{"x":8,"y":44,"v":1},{"x":9,"y":44,"v":1},{"x":10,"y":44,"v":1},{"x":11,"y":44,"v":1},{"x":12,"y":44,"v":1},{"x":7,"y":45,"v":1},{"x":8,"y":45,"v":1},{"x":9,"y":45,"v":1},{"x":10,"y":45,"v":1},{"x":11,"y":45,"v":1},{"x":12,"y":45,"v":0.22},{"x":8,"y":46,"v":0.3}]},
"resolve":{"scale":{"color":"independent","stroke":"independent"}},
"vconcat":[{"resolve":{"scale":{"color":"independent","stroke":"independent"}},"hconcat":[{"resolve":{"scale":{"color":"independent","stroke":"independent"}},"hconcat":[{"width":16,"height":344,"data":{"name":"cbn"},"mark":{"type":"rect","stroke":"black","strokeWidth":2,"fill":{"gradient":"linear","x1":0,"y1":1,"x2":0,"y2":0,"stops":[{"offset":0,"color":"#440154"},{"offset":0.1,"color":"#482475"},{"offset":0.2,"color":"#414487"},{"offset":0.3,"color":"#355f8d"},{"offset":0.4,"color":"#2a788e"},{"offset":0.5,"color":"#21918c"},{"offset":0.6,"color":"#22a884"},{"offset":0.7,"color":"#44bf70"},{"offset":0.8,"color":"#7ad151"},{"offset":0.9,"color":"#bddf26"},{"offset":1,"color":"#fde725"}]}},"encoding":{"y":{"field":"a","type":"quantitative","scale":{"domain":[-1.5,1.87],"nice":false,"zero":false},"axis":{"values":[-1,0,1],"format":"d","title":null,"grid":false,"domain":false,"tickColor":"black","tickSize":9,"tickWidth":2,"labelFontSize":44.5,"labelColor":"black","labelPadding":14,"minExtent":70,"maxExtent":70}},"y2":{"field":"b"}}},{"width":345,"height":344,"layer":[{"data":{"name":"nc"},"mark":{"type":"rect","strokeWidth":1},"encoding":{"x":{"field":"x","type":"quantitative","bin":{"step":3.5,"extent":[0,63]},"scale":{"domain":[0,63],"round":true},"axis":{"title":"log𝑛\u00a0\u00a0\u00a0[1/cm³]","ticks":false,"labels":false,"domain":false,"grid":false,"titleFontSize":44.5,"titleFontWeight":"normal","titleColor":"black","titlePadding":13}},"y":{"field":"y","type":"quantitative","bin":{"step":3.5,"extent":[0,63]},"scale":{"domain":[0,63],"reverse":true,"round":true},"axis":null},"color":{"field":"v","type":"quantitative","scale":{"scheme":"viridis","domain":[-1.5,1.87]},"legend":null},"stroke":{"field":"v","type":"quantitative","scale":{"scheme":"viridis","domain":[-1.5,1.87]},"legend":null}}},{"data":{"name":"nf"},"mark":{"type":"rect","strokeWidth":1},"encoding":{"x":{"field":"x","type":"quantitative","bin":{"step":1,"extent":[0,63]},"scale":{"domain":[0,63],"round":true}},"y":{"field":"y","type":"quantitative","bin":{"step":1,"extent":[0,63]},"scale":{"domain":[0,63],"reverse":true,"round":true},"axis":null},"color":{"field":"v","type":"quantitative","scale":{"scheme":"viridis","domain":[-1.5,1.87]},"legend":null},"stroke":{"field":"v","type":"quantitative","scale":{"scheme":"viridis","domain":[-1.5,1.87]},"legend":null}}},{"data":{"name":"frame"},"mark":{"type":"rect","filled":false,"stroke":"black","strokeWidth":2},"encoding":{"x":{"field":"x","type":"quantitative","bin":{"step":63,"extent":[0,63]},"scale":{"domain":[0,63],"round":true}},"y":{"field":"y","type":"quantitative","bin":{"step":63,"extent":[0,63]},"scale":{"domain":[0,63],"reverse":true,"round":true},"axis":null}}},{"data":{"values":[{"x":23,"y":72,"t":"b"}]},"mark":{"type":"text","fontSize":31,"fontStyle":"italic","color":"black"},"encoding":{"x":{"field":"x","type":"quantitative","scale":{"domain":[0,63],"round":true}},"y":{"field":"y","type":"quantitative","scale":{"domain":[0,63],"reverse":true,"round":true},"axis":null},"text":{"field":"t"}}}]}],"spacing":0},{"width":347,"height":344,"layer":[{"data":{"name":"pc"},"mark":{"type":"rect","strokeWidth":1},"encoding":{"x":{"field":"x","type":"quantitative","bin":{"step":63,"extent":[0,63]},"scale":{"domain":[0,63],"round":true},"axis":{"title":"Predicted: 82","ticks":false,"labels":false,"domain":false,"grid":false,"titleFontSize":44.5,"titleFontWeight":"normal","titleColor":"black","titlePadding":13}},"y":{"field":"y","type":"quantitative","bin":{"step":63,"extent":[0,63]},"scale":{"domain":[0,63],"reverse":true,"round":true},"axis":null},"color":{"field":"v","type":"quantitative","scale":{"domain":[0,0.33,0.66,1],"range":["#0b0000","#e00000","#ffff00","#ffffff"],"interpolate":"rgb"},"legend":null},"stroke":{"field":"v","type":"quantitative","scale":{"domain":[0,0.33,0.66,1],"range":["#0b0000","#e00000","#ffff00","#ffffff"],"interpolate":"rgb"},"legend":null}}},{"data":{"name":"pf"},"mark":{"type":"rect","strokeWidth":1},"encoding":{"x":{"field":"x","type":"quantitative","bin":{"step":1,"extent":[0,63]},"scale":{"domain":[0,63],"round":true}},"y":{"field":"y","type":"quantitative","bin":{"step":1,"extent":[0,63]},"scale":{"domain":[0,63],"reverse":true,"round":true},"axis":null},"color":{"field":"v","type":"quantitative","scale":{"domain":[0,0.33,0.66,1],"range":["#0b0000","#e00000","#ffff00","#ffffff"],"interpolate":"rgb"},"legend":null},"stroke":{"field":"v","type":"quantitative","scale":{"domain":[0,0.33,0.66,1],"range":["#0b0000","#e00000","#ffff00","#ffffff"],"interpolate":"rgb"},"legend":null}}}]}],"spacing":24},{"resolve":{"scale":{"color":"independent","stroke":"independent"}},"hconcat":[{"resolve":{"scale":{"color":"independent","stroke":"independent"}},"hconcat":[{"width":16,"height":344,"data":{"name":"cbt"},"mark":{"type":"rect","stroke":"black","strokeWidth":2,"fill":{"gradient":"linear","x1":0,"y1":1,"x2":0,"y2":0,"stops":[{"offset":0,"color":"#000004"},{"offset":0.1,"color":"#1b0c41"},{"offset":0.2,"color":"#4a0c6b"},{"offset":0.3,"color":"#781c6d"},{"offset":0.4,"color":"#a52c60"},{"offset":0.5,"color":"#cf4446"},{"offset":0.6,"color":"#ed6925"},{"offset":0.7,"color":"#fb9b06"},{"offset":0.8,"color":"#f7d13d"},{"offset":1,"color":"#fcffa4"}]}},"encoding":{"y":{"field":"a","type":"quantitative","scale":{"domain":[1.83,3.76],"nice":false,"zero":false},"axis":{"values":[2,3],"format":"d","title":null,"grid":false,"domain":false,"tickColor":"black","tickSize":9,"tickWidth":2,"labelFontSize":44.5,"labelColor":"black","labelPadding":14,"minExtent":70,"maxExtent":70}},"y2":{"field":"b"}}},{"width":345,"height":344,"layer":[{"data":{"name":"tc"},"mark":{"type":"rect","strokeWidth":1},"encoding":{"x":{"field":"x","type":"quantitative","bin":{"step":3,"extent":[0,63]},"scale":{"domain":[0,63],"round":true},"axis":{"title":"log𝑇[K]","ticks":false,"labels":false,"domain":false,"grid":false,"titleFontSize":44.5,"titleFontWeight":"normal","titleColor":"black","titlePadding":13}},"y":{"field":"y","type":"quantitative","bin":{"step":3,"extent":[0,63]},"scale":{"domain":[0,63],"reverse":true,"round":true},"axis":null},"color":{"field":"v","type":"quantitative","scale":{"scheme":"inferno","domain":[1.83,3.76]},"legend":null},"stroke":{"field":"v","type":"quantitative","scale":{"scheme":"inferno","domain":[1.83,3.76]},"legend":null}}},{"data":{"name":"frame"},"mark":{"type":"rect","filled":false,"stroke":"black","strokeWidth":2},"encoding":{"x":{"field":"x","type":"quantitative","bin":{"step":63,"extent":[0,63]},"scale":{"domain":[0,63],"round":true}},"y":{"field":"y","type":"quantitative","bin":{"step":63,"extent":[0,63]},"scale":{"domain":[0,63],"reverse":true,"round":true},"axis":null}}}]}],"spacing":0},{"resolve":{"scale":{"color":"independent","stroke":"independent"}},"hconcat":[{"width":345,"height":344,"layer":[{"data":{"name":"rc"},"mark":{"type":"rect","strokeWidth":1},"encoding":{"x":{"field":"x","type":"quantitative","bin":{"step":3.5,"extent":[0,63]},"scale":{"domain":[0,63],"round":true},"axis":{"title":"log𝜌\u00a0\u00a0\u00a0/𝜌","ticks":false,"labels":false,"domain":false,"grid":false,"titleFontSize":44.5,"titleFontWeight":"normal","titleColor":"black","titlePadding":13}},"y":{"field":"y","type":"quantitative","bin":{"step":3.5,"extent":[0,63]},"scale":{"domain":[0,63],"reverse":true,"round":true},"axis":null},"color":{"field":"v","type":"quantitative","scale":{"domain":[-7.73,-3.66],"range":["#00ffff","#ff00ff"],"interpolate":"rgb"},"legend":null},"stroke":{"field":"v","type":"quantitative","scale":{"domain":[-7.73,-3.66],"range":["#00ffff","#ff00ff"],"interpolate":"rgb"},"legend":null}}},{"data":{"name":"rf"},"mark":{"type":"rect","strokeWidth":1},"encoding":{"x":{"field":"x","type":"quantitative","bin":{"step":1,"extent":[0,63]},"scale":{"domain":[0,63],"round":true}},"y":{"field":"y","type":"quantitative","bin":{"step":1,"extent":[0,63]},"scale":{"domain":[0,63],"reverse":true,"round":true},"axis":null},"color":{"field":"v","type":"quantitative","scale":{"domain":[-7.73,-3.66],"range":["#00ffff","#ff00ff"],"interpolate":"rgb"},"legend":null},"stroke":{"field":"v","type":"quantitative","scale":{"domain":[-7.73,-3.66],"range":["#00ffff","#ff00ff"],"interpolate":"rgb"},"legend":null}}},{"data":{"name":"frame"},"mark":{"type":"rect","filled":false,"stroke":"black","strokeWidth":2},"encoding":{"x":{"field":"x","type":"quantitative","bin":{"step":63,"extent":[0,63]},"scale":{"domain":[0,63],"round":true}},"y":{"field":"y","type":"quantitative","bin":{"step":63,"extent":[0,63]},"scale":{"domain":[0,63],"reverse":true,"round":true},"axis":null}}},{"data":{"values":[{"x":36,"y":72,"t":"H2"}]},"mark":{"type":"text","fontSize":31,"fontStyle":"italic","color":"black"},"encoding":{"x":{"field":"x","type":"quantitative","scale":{"domain":[0,63],"round":true}},"y":{"field":"y","type":"quantitative","scale":{"domain":[0,63],"reverse":true,"round":true},"axis":null},"text":{"field":"t"}}}]},{"width":16,"height":344,"data":{"name":"cbr"},"mark":{"type":"rect","stroke":"black","strokeWidth":2,"fill":{"gradient":"linear","x1":0,"y1":1,"x2":0,"y2":0,"stops":[{"offset":0,"color":"#00ffff"},{"offset":1,"color":"#ff00ff"}]}},"encoding":{"y":{"field":"a","type":"quantitative","scale":{"domain":[-7.73,-3.66],"nice":false,"zero":false},"axis":{"orient":"right","values":[-6,-4],"format":"d","title":null,"grid":false,"domain":false,"tickColor":"black","tickSize":9,"tickWidth":2,"labelFontSize":44.5,"labelColor":"black","labelPadding":13}},"y2":{"field":"b"}}}],"spacing":0}],"spacing":15}],"spacing":2}
